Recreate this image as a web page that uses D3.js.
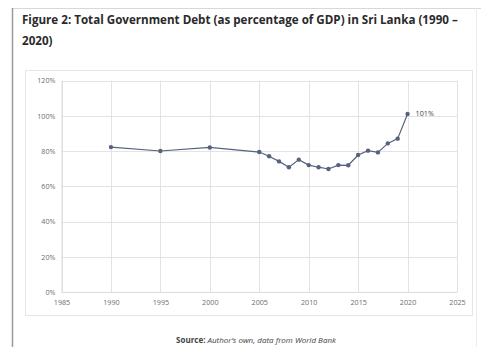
<!DOCTYPE html>
<html><head><meta charset="utf-8">
<script src="https://cdn.jsdelivr.net/npm/d3@7"></script>
<style>body{margin:0;background:#fff}svg{display:block}</style>
</head><body>
<svg id="c" width="481" height="347"></svg>
<script>
const years = [1990,1995,2000,2005,2006,2007,2008,2009,2010,2011,2012,2013,2014,2015,2016,2017,2018,2019,2020];
const debt  = [82.2,80.0,82.0,79.4,77.0,74.1,70.8,75.1,72.0,70.8,69.8,72.0,71.9,77.7,80.2,79.2,84.3,87.0,101.0];
const yTicks = [0,20,40,60,80,100,120];
const xTicks = [1985,1990,1995,2000,2005,2010,2015,2020,2025];
const titleLines = ["Figure 2: Total Government Debt (as percentage of GDP) in Sri Lanka (1990 \u2013","2020)"];
const endLabel = "101%";

const svg = d3.select("#c");
const font = "'Open Sans', sans-serif";

// page frame
svg.append("line").attr("x1",12).attr("x2",481).attr("y1",8.5).attr("y2",8.5).attr("stroke","#d8d8d8");
svg.append("line").attr("x1",12.5).attr("x2",12.5).attr("y1",8).attr("y2",347).attr("stroke","#9a9a9a").attr("stroke-width",1.5);
svg.append("line").attr("x1",476.5).attr("x2",476.5).attr("y1",8).attr("y2",347).attr("stroke","#ececec");

// title
const t = svg.append("g").attr("font-family",font).attr("font-weight",700).attr("fill","#2a2a2a");
titleLines.forEach((s,i)=>{
  t.append("text").attr("x",22).attr("y",24+i*21).attr("font-size",10.5).text(s);
});
const first = t.select("text").node();
const w = first.getComputedTextLength();
const fs = 10.5*436/w;
t.selectAll("text").attr("font-size",fs);

// chart box
svg.append("rect").attr("x",25.5).attr("y",70.5).attr("width",447).attr("height",245)
  .attr("fill","#fff").attr("stroke","#e6e6e6");

const x = d3.scaleLinear().domain([1985,2025]).range([61.5,457]);
const y = d3.scaleLinear().domain([0,120]).range([292,80.5]);

const g = svg.append("g");
// grid
g.selectAll(".hg").data(yTicks).join("line").attr("x1",x(1985)).attr("x2",x(2025))
  .attr("y1",d=>Math.round(y(d))+0.5).attr("y2",d=>Math.round(y(d))+0.5).attr("stroke","#e3e3e3");
g.selectAll(".vg").data(xTicks).join("line").attr("y1",y(0)).attr("y2",y(120))
  .attr("x1",d=>Math.round(x(d))+0.5).attr("x2",d=>Math.round(x(d))+0.5).attr("stroke","#e3e3e3");

// axes
const ya = svg.append("g").attr("transform",`translate(${x(1985)},0)`)
  .call(d3.axisLeft(y).tickValues(yTicks).tickFormat(d=>d+"%").tickSize(0).tickPadding(6));
const xa = svg.append("g").attr("transform",`translate(0,${y(0)})`)
  .call(d3.axisBottom(x).tickValues(xTicks).tickFormat(d3.format("d")).tickSize(0).tickPadding(8));
[ya,xa].forEach(a=>{
  a.select(".domain").attr("stroke","#dcdcdc");
  a.selectAll("text").attr("font-family",font).attr("font-size",7.2).attr("fill","#6e6e6e");
});

// line
const col = "#56627e";
svg.append("path").datum(years.map((d,i)=>[d,debt[i]]))
  .attr("fill","none").attr("stroke",col).attr("stroke-width",1.2)
  .attr("d",d3.line().x(d=>x(d[0])).y(d=>y(d[1])));
svg.selectAll(".pt").data(years.map((d,i)=>[d,debt[i]])).join("circle")
  .attr("cx",d=>x(d[0])).attr("cy",d=>y(d[1])).attr("r",2.2).attr("fill",col);

svg.append("text").attr("x",x(2020)+8).attr("y",y(debt[debt.length-1])+2.5)
  .attr("font-family",font).attr("font-size",7.2).attr("fill","#444").text(endLabel);

// source
const s = svg.append("text").attr("x",256).attr("y",343).attr("text-anchor","middle")
  .attr("font-family",font).attr("font-size",8).attr("fill","#444");
s.append("tspan").attr("font-weight",700).text("Source:");
s.append("tspan").attr("font-style","italic").text(" Author\u2019s own, data from World Bank");
</script>
</body></html>
